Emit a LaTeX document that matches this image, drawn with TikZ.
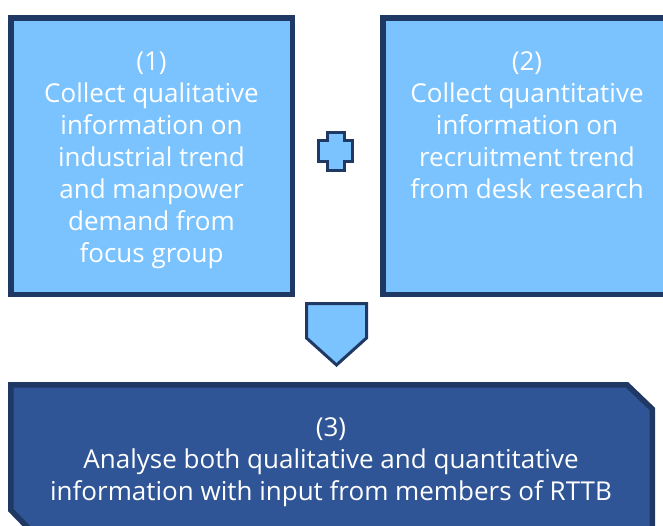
\documentclass[tikz,border=0pt]{standalone}
\usepackage{fontspec}
\setmainfont{Open Sans}
\definecolor{skyfill}{HTML}{7AC3FF}
\definecolor{navyline}{HTML}{1F3864}
\definecolor{deepfill}{HTML}{2F5597}
\begin{document}
\begin{tikzpicture}[x=1pt,y=-1pt,
  lightbox/.style={draw=navyline,fill=skyfill,line width=5.5pt},
  darkbox/.style={draw=navyline,fill=deepfill,line width=5.5pt},
  sign/.style={draw=navyline,fill=skyfill,line width=3pt},
  steptext/.style={text=white,align=center,inner sep=0pt,
    font=\fontsize{26}{32}\selectfont}]
\useasboundingbox (0,0) rectangle (663,525);
% the two collection steps
\draw[lightbox] (10.75,17.75) rectangle (292.25,294.25);
\draw[lightbox] (382.75,17.75) rectangle (669.25,294.25);
% plus sign between them
\coordinate (P) at (335.5,151.5);
\draw[sign] (P) ++(-8,-19) -- ++(17,0) -- ++(0,8) -- ++(8,0)
  -- ++(0,21) -- ++(-8,0) -- ++(0,9) -- ++(-17,0) -- ++(0,-9)
  -- ++(-9,0) -- ++(0,-21) -- ++(9,0) -- cycle;
% arrow down to the analysis
\draw[sign] (306.5,303.5) -- (366.5,303.5) -- (366.5,338)
  -- (336.5,365) -- (306.5,338) -- cycle;
% analysis step, two corners cut off
\draw[darkbox] (10.75,384.75) -- (627,384.75) -- (652.25,409)
  -- (652.25,535) -- (35,535) -- (10.75,510) -- cycle;
\node[steptext] (qual) at (151.5,160) {(1)\\Collect qualitative\\information on\\industrial trend\\and manpower\\demand from\\focus group};
\node[steptext] (quant) at (527,125.5) {(2)\\Collect quantitative\\information on\\recruitment trend\\from desk research};
\node[steptext] (analyse) at (331,462) {(3)\\Analyse both qualitative and quantitative\\information with input from members of RTTB};
\end{tikzpicture}
\end{document}
